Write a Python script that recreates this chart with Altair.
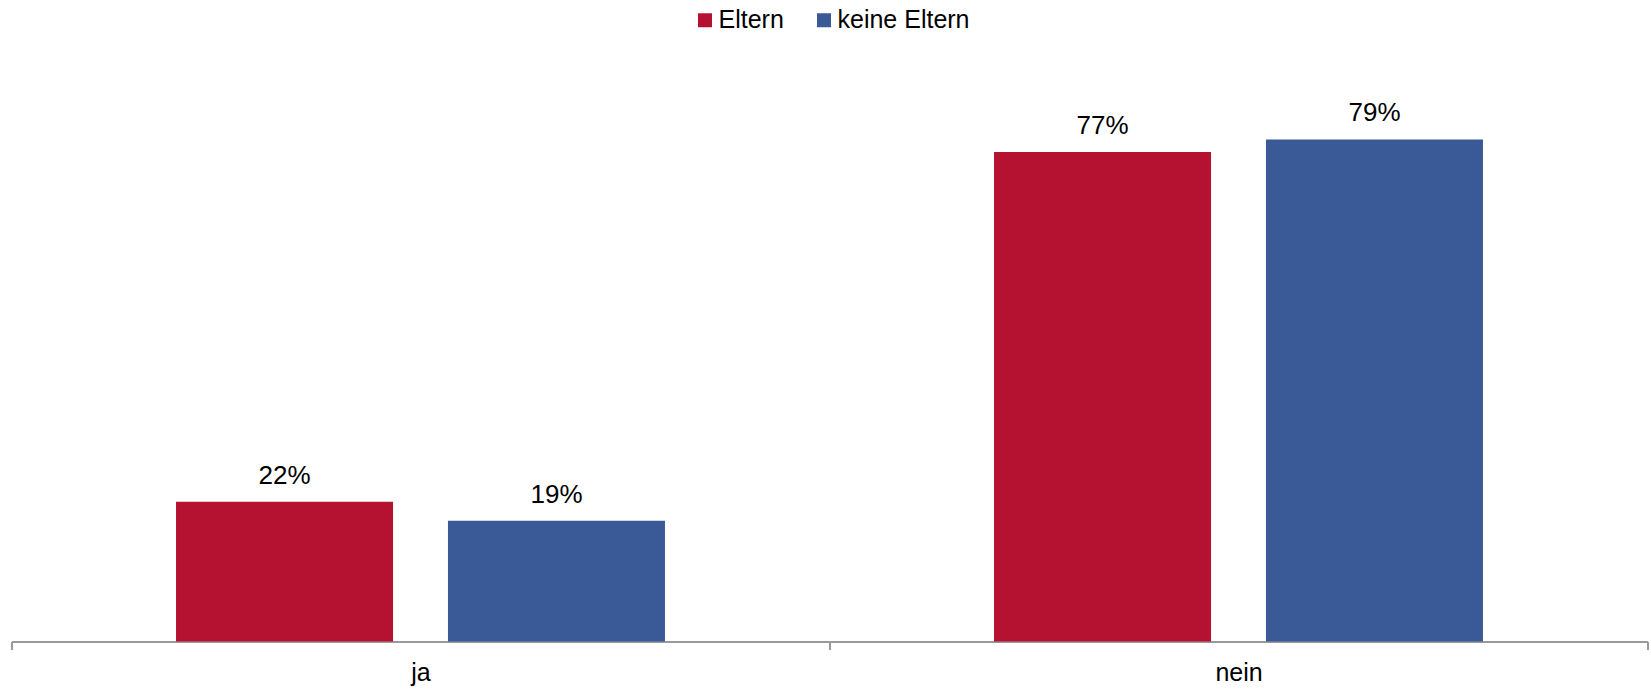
import altair as alt
import pandas as pd

categories = ["ja", "nein"]
series = ["Eltern", "keine Eltern"]
eltern = [22, 77]
keine_eltern = [19, 79]
colors = ["#B51130", "#3A5997"]

rows = []
for i, c in enumerate(categories):
    rows.append({"Antwort": c, "Gruppe": series[0], "Wert": eltern[i]})
    rows.append({"Antwort": c, "Gruppe": series[1], "Wert": keine_eltern[i]})
df = pd.DataFrame(rows)
df["Label"] = df["Wert"].astype(str) + "%"

FONT = "Liberation Sans"
W = 1636
H = 572

x_enc = alt.X(
    "Antwort:N",
    sort=categories,
    scale=alt.Scale(paddingInner=0, paddingOuter=0),
    axis=alt.Axis(
        title=None,
        labelAngle=0,
        tickBand="extent",
        tickSize=8,
        tickColor="#9A9A9A",
        tickWidth=2,
        domainColor="#9A9A9A",
        domainWidth=2,
        labelFont=FONT,
        labelFontSize=25,
        labelColor="#000000",
        labelPadding=11,
    ),
)
xoff_enc = alt.XOffset(
    "Gruppe:N",
    sort=series,
    scale=alt.Scale(paddingInner=0.202, paddingOuter=0.605),
)
y_enc = alt.Y("Wert:Q", scale=alt.Scale(domain=[0, 90], nice=False, zero=True), axis=None)

bars = alt.Chart(df).mark_bar().encode(
    x=x_enc,
    xOffset=xoff_enc,
    y=y_enc,
    color=alt.Color(
        "Gruppe:N",
        sort=series,
        scale=alt.Scale(domain=series, range=colors),
        legend=alt.Legend(
            title=None,
            orient="none",
            direction="horizontal",
            legendX=681,
            legendY=-62,
            symbolType="square",
            symbolSize=196,
            symbolStrokeWidth=0,
            symbolOpacity=1,
            labelFont=FONT,
            labelFontSize=25,
            labelColor="#000000",
            labelOffset=1,
            columnPadding=27,
            padding=0,
        ),
    ),
)

labels = alt.Chart(df).mark_text(
    font=FONT, fontSize=26, color="#000000", baseline="alphabetic", dy=-18
).encode(
    x=alt.X("Antwort:N", sort=categories),
    xOffset=alt.XOffset("Gruppe:N", sort=series),
    y=alt.Y("Wert:Q"),
    text="Label:N",
)

chart = (
    alt.layer(bars, labels)
    .properties(
        width=W,
        height=H,
        padding={"left": 11.5, "top": 69.5, "right": 3.5, "bottom": 48.5},
        autosize=alt.AutoSizeParams(type="none"),
        background="#FFFFFF",
    )
    .configure_view(stroke=None)
)

chart.save("out.html", embed_options={"renderer": "svg", "actions": False})
